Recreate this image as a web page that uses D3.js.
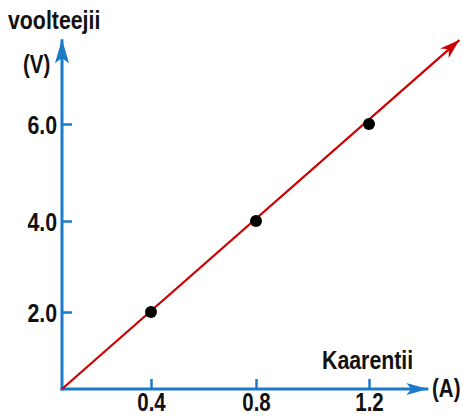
<!DOCTYPE html>
<html><head><meta charset="utf-8">
<script src="https://cdn.jsdelivr.net/npm/d3@7"></script>
<style>
body{margin:0;background:#fff;}
svg{display:block;}
text{font-family:"Liberation Sans",Arial,sans-serif;font-weight:bold;fill:#111;}
</style></head>
<body>
<svg id="chart" width="462" height="416"></svg>
<script>
// Data
const currents = [0.4, 0.8, 1.2];          // A
const voltages = [2.0, 4.0, 6.0];          // V
const xTicks = [0.4, 0.8, 1.2];
const xTickLabels = ["0.4", "0.8", "1.2"];
const yTicks = [2, 4, 6];
const yTickLabels = ["2.0", "4.0", "6.0"];
const lineX = [0, 1.52];
const lineY = [0, 7.73];
const xAxisEnd = 1.41;
const yAxisEnd = 7.75;

const svg = d3.select("#chart");
const blue = "#1b7bc9", red = "#cc0000";
const SX = 0.82; // condensed look of the reference lettering

// piecewise-linear scales to match the hand-drawn reference
const x = d3.scaleLinear().domain([0, 0.4, 0.8, 1.2]).range([62, 151, 256, 369]);
const y = d3.scaleLinear().domain([0, 2, 4, 6]).range([389, 312, 221, 124]);

const defs = svg.append("defs");
defs.append("marker").attr("id","arrBlueY").attr("viewBox","0 0 24 16").attr("refX",24).attr("refY",8)
  .attr("markerWidth",24).attr("markerHeight",16).attr("markerUnits","userSpaceOnUse").attr("orient","auto")
  .append("path").attr("d","M0,1 L24,8 L0,15 L5,8 Z").attr("fill",blue);
defs.append("marker").attr("id","arrBlueX").attr("viewBox","0 0 22 14").attr("refX",22).attr("refY",7)
  .attr("markerWidth",22).attr("markerHeight",14).attr("markerUnits","userSpaceOnUse").attr("orient","auto")
  .append("path").attr("d","M0,1 L22,7 L0,13 L5,7 Z").attr("fill",blue);
defs.append("marker").attr("id","arrRed").attr("viewBox","0 0 20 14").attr("refX",20).attr("refY",7)
  .attr("markerWidth",20).attr("markerHeight",14).attr("markerUnits","userSpaceOnUse").attr("orient","auto")
  .append("path").attr("d","M0,0.5 L20,7 L0,13.5 L6,7 Z").attr("fill",red);

// X axis ticks/labels
const gx = svg.append("g").attr("transform",`translate(0,${y(0)})`)
  .call(d3.axisBottom(x).tickValues(xTicks).tickFormat((d,i)=>xTickLabels[i])
    .tickSizeInner(-10).tickSizeOuter(0).tickPadding(4));
gx.select(".domain").remove();
gx.selectAll("line").attr("stroke",blue).attr("stroke-width",2.5);
gx.selectAll("text").style("font-size","25px").attr("fill","#111").attr("dy","0.72em")
  .attr("transform",`scale(${SX},1)`);

// Y axis ticks/labels
const gy = svg.append("g").attr("transform",`translate(${x(0)},0)`)
  .call(d3.axisLeft(y).tickValues(yTicks).tickFormat((d,i)=>yTickLabels[i])
    .tickSizeInner(-10).tickSizeOuter(0).tickPadding(6));
gy.select(".domain").remove();
gy.selectAll("line").attr("stroke",blue).attr("stroke-width",2.5);
gy.selectAll("text").style("font-size","26px").attr("fill","#111").attr("dy","0.36em")
  .attr("transform",`scale(${SX},1)`);

// Axis lines with arrows
svg.append("line").attr("x1",x(0)).attr("y1",y(0)+1.5).attr("x2",x(0)).attr("y2",y(yAxisEnd))
  .attr("stroke",blue).attr("stroke-width",3).attr("marker-end","url(#arrBlueY)");
svg.append("line").attr("x1",x(0)-1.5).attr("y1",y(0)).attr("x2",x(xAxisEnd)).attr("y2",y(0))
  .attr("stroke",blue).attr("stroke-width",3).attr("marker-end","url(#arrBlueX)");

// Red line
svg.append("path").datum(lineX.map((d,i)=>[d,lineY[i]]))
  .attr("d", d3.line().x(d=>x(d[0])).y(d=>y(d[1])))
  .attr("fill","none").attr("stroke",red).attr("stroke-width",2.2).attr("marker-end","url(#arrRed)");

// Points
svg.selectAll("circle.pt").data(currents.map((c,i)=>[c,voltages[i]])).join("circle")
  .attr("class","pt").attr("cx",d=>x(d[0])).attr("cy",d=>y(d[1])).attr("r",6).attr("fill","#000");

// Axis titles
function title(tx, ty, size, str){
  svg.append("text").attr("transform",`translate(${tx},${ty}) scale(${SX},1)`)
    .style("font-size",size+"px").text(str);
}
title(8, 29, 26, "voolteejii");
title(23, 73, 25, "(V)");
title(322, 369, 26, "Kaarentii");
title(432, 397, 25, "(A)");
</script>
</body></html>
